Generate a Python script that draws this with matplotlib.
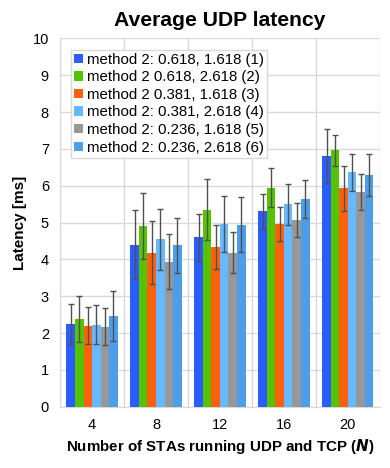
import numpy as np
import matplotlib
matplotlib.use('Agg')
import matplotlib.pyplot as plt

plt.rcParams['font.family'] = ['Liberation Sans', 'DejaVu Sans']

# Data
n_stas = ['4', '8', '12', '16', '20']
labels = ['method 2: 0.618, 1.618 (1)', 'method 2 0.618, 2.618 (2)',
          'method 2 0.381, 1.618 (3)', 'method 2: 0.381, 2.618 (4)',
          'method 2: 0.236, 1.618 (5)', 'method 2: 0.236, 2.618 (6)']
colors = ['#2B5CFF', '#55C400', '#FF6010', '#66B8FF', '#979797', '#4A9EEA']

m1 = [2.24, 4.40, 4.60, 5.30, 6.81]
m2 = [2.38, 4.90, 5.35, 5.95, 6.96]
m3 = [2.20, 4.18, 4.34, 4.96, 5.93]
m4 = [2.23, 4.54, 4.97, 5.49, 6.36]
m5 = [2.17, 3.94, 4.18, 5.07, 5.83]
m6 = [2.46, 4.38, 4.94, 5.64, 6.29]

e1 = [0.55, 0.93, 0.64, 0.48, 0.74]
e2 = [0.63, 0.89, 0.82, 0.52, 0.43]
e3 = [0.50, 0.86, 0.59, 0.47, 0.61]
e4 = [0.54, 0.83, 0.76, 0.55, 0.51]
e5 = [0.50, 0.74, 0.55, 0.46, 0.49]
e6 = [0.67, 0.74, 0.75, 0.51, 0.56]

means = [m1, m2, m3, m4, m5, m6]
errs = [e1, e2, e3, e4, e5, e6]

fig = plt.figure(figsize=(3.9, 4.68), dpi=100)
ax = fig.add_axes([0.154, 0.131, 0.820, 0.787])

x = np.arange(len(n_stas))
width = 0.8 / 6
for i in range(6):
    ax.bar(x - 0.4 + width * (i + 0.5), means[i], width, color=colors[i],
           yerr=errs[i], error_kw=dict(ecolor='#505050', elinewidth=1, capsize=2, capthick=1),
           label=labels[i], zorder=3)

ax.set_xlim(-0.5, 4.5)
ax.set_ylim(0, 10)
ax.set_yticks(range(0, 11))
ax.set_xticks(x)
ax.set_xticklabels(n_stas)
ax.set_xticks(np.arange(-0.5, 5, 1), minor=True)
ax.grid(True, axis='y', color='#d9d9d9', linewidth=1, zorder=0)
ax.grid(True, axis='x', which='minor', color='#d9d9d9', linewidth=1, zorder=0)
ax.tick_params(axis='both', which='both', length=0, labelsize=10.5, pad=8)
for s in ['top', 'right']:
    ax.spines[s].set_visible(False)
ax.spines['left'].set_color('#d9d9d9')
ax.spines['bottom'].set_color('#d9d9d9')

ax.set_title('Average UDP latency', fontsize=15.2, fontweight='bold', pad=9)
ax.set_ylabel('Latency [ms]', fontsize=11, fontweight='bold')
ax.set_xlabel('Number of STAs running UDP and TCP ($\\bfit{N}$)', fontsize=10.9, fontweight='bold')

leg = ax.legend(loc='upper left', fontsize=10.8, handlelength=0.6, handleheight=0.6,
                handletextpad=0.25, labelspacing=0.24, borderpad=0.2,
                fancybox=False, framealpha=1, edgecolor='#d9d9d9',
                bbox_to_anchor=(0.01, 0.99))

fig.savefig('out.png', dpi=100)
